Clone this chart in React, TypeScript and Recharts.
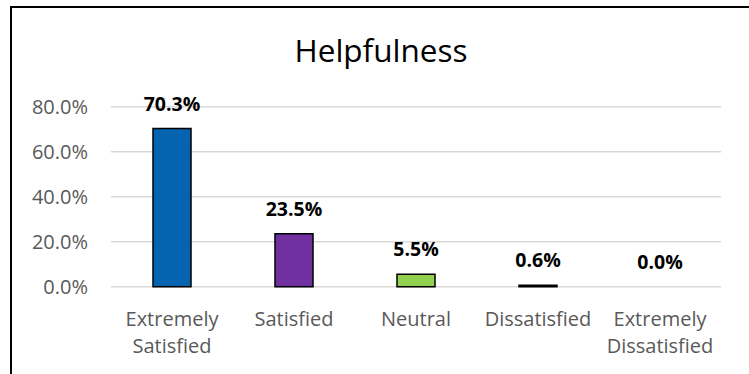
import { Bar, BarChart, CartesianGrid, Cell, LabelList, XAxis, YAxis } from 'recharts'

const categories = ['Extremely Satisfied', 'Satisfied', 'Neutral', 'Dissatisfied', 'Extremely Dissatisfied']
const shares = [70.3, 23.5, 5.5, 0.6, 0.0]
const barColors = ['#0563B0', '#7030A0', '#92D050', '#7F7F7F', '#C00000']
const yTicks = [0, 20, 40, 60, 80]

const data = categories.map((name, i) => ({ name, value: shares[i] }))

const FONT = '"Open Sans", sans-serif'

function CategoryTick({ x, y, payload }: any) {
  const lines = String(payload.value).split(' ')
  return (
    <text
      x={x}
      y={y + 39}
      textAnchor="middle"
      fill="#595959"
      fontSize={20}
      fontFamily={FONT}
    >
      {lines.map((line, i) => (
        <tspan key={line} x={x} dy={i === 0 ? 0 : 27.5}>
          {line}
        </tspan>
      ))}
    </text>
  )
}

export default function App() {
  return (
    <div style={{ position: 'absolute', left: 0, top: 0, width: 749, height: 374, background: '#fff', overflow: 'hidden' }}>
      <div
        style={{
          position: 'absolute',
          left: 10,
          top: 6,
          width: 800,
          height: 420,
          border: '2px solid #000',
          boxSizing: 'border-box',
        }}
      />
      <svg width={749} height={374} style={{ position: 'absolute', left: 0, top: 0 }}>
        <text x={381} y={62} textAnchor="middle" fontSize={31.5} fontFamily={FONT} fill="#000">
          Helpfulness
        </text>
      </svg>
      <div style={{ position: 'absolute', left: 0, top: 0 }}>
        <BarChart
          width={749}
          height={374}
          data={data}
          margin={{ top: 106.7, right: 28, left: 11, bottom: 7.3 }}
        >
          <CartesianGrid vertical={false} stroke="#D9D9D9" strokeWidth={1.5} />
          <XAxis
            dataKey="name"
            height={80}
            axisLine={false}
            tickLine={false}
            tickSize={0}
            tickMargin={0}
            interval={0}
            tick={<CategoryTick />}
          />
          <YAxis
            width={100}
            domain={[0, 80]}
            ticks={yTicks}
            axisLine={false}
            tickLine={false}
            tickSize={0}
            tickMargin={23}
            tick={{ fill: '#595959', fontSize: 20, fontFamily: FONT }}
            tickFormatter={(v: number) => `${v.toFixed(1)}%`}
          />
          <Bar
            dataKey="value"
            barSize={38}
            strokeWidth={1.5}
            minPointSize={0.01}
            isAnimationActive={false}
          >
            {data.map((d, i) => (
              <Cell key={d.name} fill={barColors[i]} stroke={d.value > 0 ? '#000' : 'none'} />
            ))}
            <LabelList
              dataKey="value"
              position="top"
              offset={18}
              fill="#000"
              fontSize={19.5}
              fontWeight="bold"
              fontFamily={FONT}
              formatter={(v: number) => `${Number(v).toFixed(1)}%`}
            />
          </Bar>
        </BarChart>
      </div>
    </div>
  )
}
